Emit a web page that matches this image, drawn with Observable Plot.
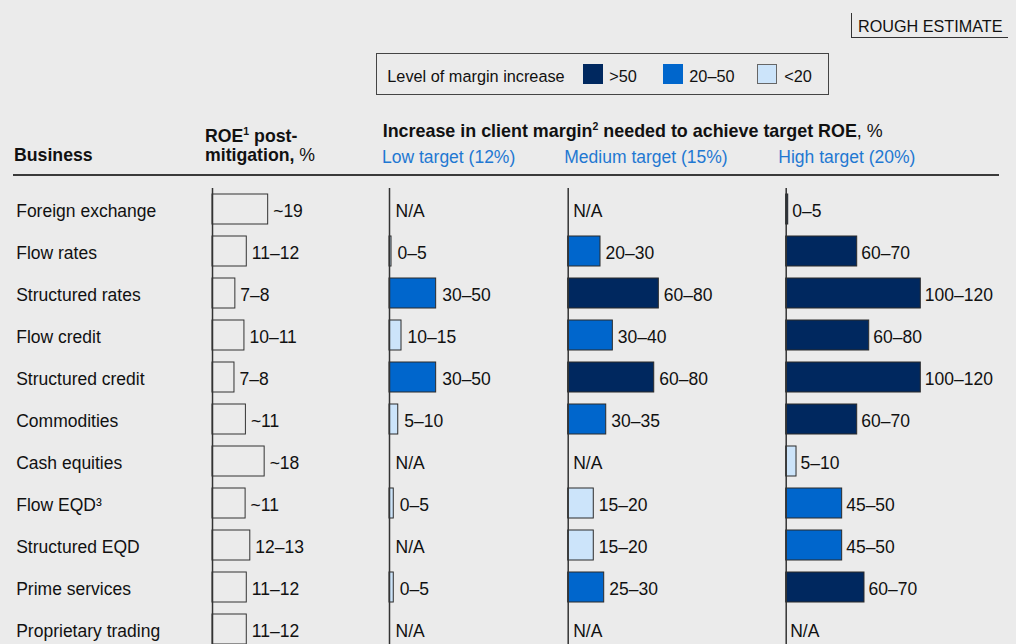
<!DOCTYPE html>
<html>
<head>
<meta charset="utf-8">
<script src="https://cdn.jsdelivr.net/npm/d3@7"></script>
<script src="https://cdn.jsdelivr.net/npm/@observablehq/plot@0.6"></script>
<style>
  html, body { margin: 0; padding: 0; background: #ebebeb; }
  #page { position: relative; width: 1016px; height: 644px; overflow: hidden; background: #ebebeb;
          font-family: "Liberation Sans", Arial, Helvetica, sans-serif; color: #111; }
  .t { position: absolute; white-space: nowrap; }
  .t sup { font-size: 10.5px; line-height: 0; vertical-align: 7px; }
  .sw { position: absolute; width: 20px; height: 20px; box-sizing: border-box; }
  .plot { position: absolute; left: 0; top: 188px; }
</style>
</head>
<body>
<div id="page"></div>
<script>
// ---------------- data ----------------
const businesses = ["Foreign exchange", "Flow rates", "Structured rates", "Flow credit", "Structured credit",
  "Commodities", "Cash equities", "Flow EQD³", "Structured EQD", "Prime services", "Proprietary trading"];

const roeValues = [19, 11.7, 7.8, 10.9, 7.5, 11.4, 17.8, 11.3, 12.9, 11.7, 11.7];
const roeLabels = ["~19", "11–12", "7–8", "10–11", "7–8", "~11", "~18", "~11", "12–13", "11–12", "11–12"];

const levelNames = [">50", "20–50", "<20"];
const levelColors = ["#00285f", "#0066cc", "#cce4fa"];

const lowValues = [null, 1.8, 41.6, 10.7, 41.6, 7.8, null, 3.8, null, 3.8, null];
const lowLabels = ["N/A", "0–5", "30–50", "10–15", "30–50", "5–10", "N/A", "0–5", "N/A", "0–5", "N/A"];
const lowLevels = [null, "<20", "20–50", "<20", "20–50", "<20", null, "<20", null, "<20", null];

const medValues = [null, 28.8, 80.8, 39.8, 76.7, 33.9, null, 22.8, 22.8, 32.1, null];
const medLabels = ["N/A", "20–30", "60–80", "30–40", "60–80", "30–35", "N/A", "15–20", "15–20", "25–30", "N/A"];
const medLevels = [null, "20–50", ">50", "20–50", ">50", "20–50", null, "<20", "<20", "20–50", null];

const highValues = [1.8, 63.3, 120, 74, 120, 63.3, 9.2, 49.9, 49.9, 69.8, null];
const highLabels = ["0–5", "60–70", "100–120", "60–80", "100–120", "60–70", "5–10", "45–50", "45–50", "60–70", "N/A"];
const highLevels = [">50", ">50", ">50", ">50", ">50", ">50", "<20", "20–50", "20–50", ">50", null];

const columnTitles = ["Low target (12%)", "Medium target (15%)", "High target (20%)"];

// ---------------- layout helpers ----------------
const page = document.getElementById("page");
const FONT = '"Liberation Sans", Arial, Helvetica, sans-serif';

function addText(html, x, baseline, size, extra = {}) {
  const d = document.createElement("div");
  d.className = "t";
  d.innerHTML = html;
  d.style.left = x + "px";
  d.style.fontSize = size + "px";
  d.style.lineHeight = (size * 1.117) + "px";
  d.style.top = (baseline - 0.905 * size) + "px";
  Object.assign(d.style, extra);
  page.appendChild(d);
  return d;
}
function addBox(styles) {
  const d = document.createElement("div");
  d.style.position = "absolute";
  Object.assign(d.style, styles);
  page.appendChild(d);
  return d;
}

// ROUGH ESTIMATE tag
addBox({left: "851px", top: "13px", width: "156px", height: "24px", borderLeft: "1px solid #333", borderBottom: "1px solid #333"});
addText("ROUGH ESTIMATE", 858, 31.7, 16.2);

// Legend
addBox({left: "376px", top: "53px", width: "453px", height: "42px", border: "1px solid #444", boxSizing: "border-box"});
addText("Level of margin increase", 387.3, 81.7, 16.3);
const swX = [583.3, 663.3, 756.7];
const swTextX = [609.3, 689.3, 784.3];
levelNames.forEach((name, i) => {
  const s = document.createElement("div");
  s.className = "sw";
  s.style.left = swX[i] + "px";
  s.style.top = "64.3px";
  s.style.background = levelColors[i];
  if (i === 2) s.style.border = "1px solid #666";
  page.appendChild(s);
  addText(name, swTextX[i], 81.7, 16.3);
});

// Headers
addText("<b>Business</b>", 14, 162.3, 17.7);
addText("<b>ROE<sup>1</sup> post-</b>", 205, 142.7, 17.7);
addText("<b>mitigation,</b> %", 205, 162.3, 17.7);
addText("<b>Increase in client margin<sup>2</sup> needed to achieve target ROE</b>, %", 382.7, 136.7, 17.9);
const titleX = [382, 564.3, 778.3];
columnTitles.forEach((t, i) => addText(t, titleX[i], 164.3, 17.5, {color: "#1f78d2"}));
addBox({left: "13px", top: "174.3px", width: "986px", height: "2px", background: "#3a3a3a"});

// ---------------- plots ----------------
const yScale = {domain: businesses, range: [0, 462], padding: 0, axis: null};
const plotStyle = {background: "transparent", fontFamily: FONT, overflow: "hidden"};

// ROE column (with row labels)
const roeRows = businesses.map((b, i) => ({b, v: roeValues[i], label: roeLabels[i]}));
const roePlot = Plot.plot({
  width: 1016, height: 456, margin: 0,
  style: plotStyle,
  x: {domain: [0, 20], range: [212, 212 + 20 * 2.93], axis: null},
  y: yScale,
  marks: [
    Plot.barX(roeRows, {x: "v", y: "b", fill: "none", stroke: "#333", strokeWidth: 1, insetTop: 6, insetBottom: 6}),
    Plot.ruleX([0], {stroke: "#333", strokeWidth: 1.5}),
    Plot.text(roeRows, {x: "v", y: "b", text: "label", textAnchor: "start", dx: 5, dy: 1.5, fontSize: 17.5, fill: "#111"}),
    Plot.text(roeRows, {y: "b", text: "b", frameAnchor: "left", textAnchor: "start", dx: 15.7, dy: 1.5, fontSize: 17.5, fill: "#111"})
  ]
});
roePlot.classList.add("plot");
page.appendChild(roePlot);

// Margin columns
const maxMargin = 120;
function marginPlot(values, labels, levels, axisX, dx) {
  const rows = businesses.map((b, i) => ({b, v: values[i], label: labels[i], level: levels[i]}));
  const p = Plot.plot({
    width: 1016, height: 456, margin: 0,
    style: plotStyle,
    x: {domain: [0, maxMargin], range: [axisX, axisX + 134.6], axis: null},
    y: yScale,
    color: {domain: levelNames, range: levelColors},
    marks: [
      Plot.barX(rows.filter(d => d.v != null), {x: "v", y: "b", fill: "level", stroke: "#2b2b2b", strokeWidth: 1, insetTop: 6, insetBottom: 6}),
      Plot.ruleX([0], {stroke: "#333", strokeWidth: 1.5}),
      Plot.text(rows, {x: d => d.v == null ? 0 : d.v, y: "b", text: "label", textAnchor: "start", dx: dx, dy: 1.5, fontSize: 17.5, fill: "#111"})
    ]
  });
  p.classList.add("plot");
  page.appendChild(p);
}
marginPlot(lowValues, lowLabels, lowLevels, 389, 6);
marginPlot(medValues, medLabels, medLevels, 567.7, 5);
marginPlot(highValues, highLabels, highLevels, 785.7, 4);
</script>
</body>
</html>
